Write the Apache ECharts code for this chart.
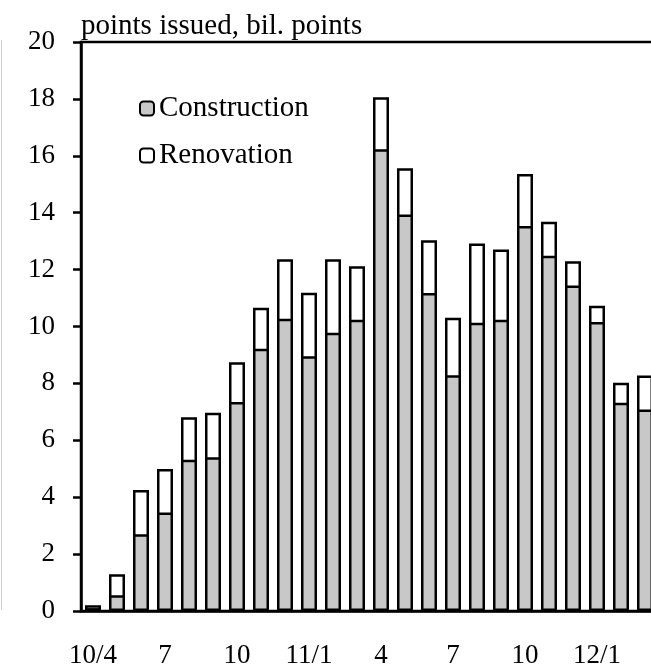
<!DOCTYPE html>
<html>
<head>
<meta charset="utf-8">
<script src="https://cdn.jsdelivr.net/npm/echarts@6/dist/echarts.min.js"></script>
<style>
  html, body { margin: 0; padding: 0; background: #fff; }
  #chart { width: 651px; height: 665px; }
</style>
</head>
<body>
<div id="chart"></div>
<script>
// months from Apr 2010 to Mar 2012
const categories = ["10/4", "5", "6", "7", "8", "9", "10", "11", "12", "11/1", "2", "3",
  "4", "5", "6", "7", "8", "9", "10", "11", "12", "12/1", "2", "3"];

// bil. points
const construction = [0.1, 0.55, 2.7, 3.46, 5.32, 5.4, 7.35, 9.22, 10.27, 8.95, 9.78, 10.24,
  16.23, 13.94, 11.18, 8.29, 10.13, 10.24, 13.53, 12.49, 11.44, 10.16, 7.32, 7.08];
const renovation = [0.1, 0.74, 1.55, 1.53, 1.49, 1.57, 1.39, 1.44, 2.09, 2.24, 2.58, 1.88,
  1.83, 1.62, 1.85, 2.02, 2.79, 2.47, 1.83, 1.19, 0.85, 0.57, 0.7, 1.2];

const yTicks = [0, 2, 4, 6, 8, 10, 12, 14, 16, 18, 20];

const FONT = "Liberation Serif";

// renovation sits on top of construction: draw the total in white, then construction over it
const total = construction.map((c, i) => +(c + renovation[i]).toFixed(2));

const chart = echarts.init(document.getElementById("chart"));

const option = {
  animation: false,
  backgroundColor: "#fff",
  textStyle: { fontFamily: FONT, color: "#000" },
  title: {
    text: "points issued, bil. points",
    left: 81,
    top: 12,
    padding: 0,
    textStyle: { fontFamily: FONT, fontSize: 29, fontWeight: "normal", color: "#000" },
  },
  legend: {
    orient: "vertical",
    left: 139,
    top: 94,
    padding: 0,
    itemWidth: 14,
    itemHeight: 14,
    itemGap: 18,
    data: ["Construction", "Renovation"],
    itemStyle: { borderColor: "#000", borderWidth: 2 },
    textStyle: { fontFamily: FONT, fontSize: 29, color: "#000" },
  },
  grid: {
    left: 81,
    top: 42,
    width: 576,
    height: 569,
    outerBoundsMode: "none",
    show: true,
    borderColor: "#000",
    borderWidth: 2.5,
  },
  xAxis: {
    type: "category",
    data: categories,
    axisLine: { lineStyle: { color: "#000", width: 2.5 } },
    axisTick: { inside: true, length: 7, lineStyle: { color: "#000", width: 2 } },
    axisLabel: {
      interval: 2,
      margin: 31,
      fontFamily: FONT,
      fontSize: 27,
      color: "#000",
    },
  },
  yAxis: {
    type: "value",
    min: 0,
    max: 20,
    interval: 2,
    axisLine: { show: true, lineStyle: { color: "#000", width: 2.5 } },
    axisTick: { show: true, length: 8, lineStyle: { color: "#000", width: 2.5 } },
    axisLabel: {
      margin: 26,
      fontFamily: FONT,
      fontSize: 27,
      color: "#000",
      formatter: (v) => (yTicks.includes(v) ? String(v) : ""),
    },
    splitLine: { show: false },
  },
  graphic: [
    {
      type: "line",
      shape: { x1: 1.5, y1: 40, x2: 1.5, y2: 610 },
      style: { stroke: "#cccccc", lineWidth: 1 },
    },
  ],
  series: [
    {
      name: "Renovation",
      type: "bar",
      barWidth: 16,
      barGap: "-100%",
      data: total,
      itemStyle: { color: "#fff", borderColor: "#000", borderWidth: 2.5 },
    },
    {
      name: "Construction",
      type: "bar",
      barWidth: 16,
      barGap: "-100%",
      data: construction,
      itemStyle: { color: "#c8c8c8", borderColor: "#000", borderWidth: 2.5 },
    },
  ],
};

chart.setOption(option);
</script>
</body>
</html>
